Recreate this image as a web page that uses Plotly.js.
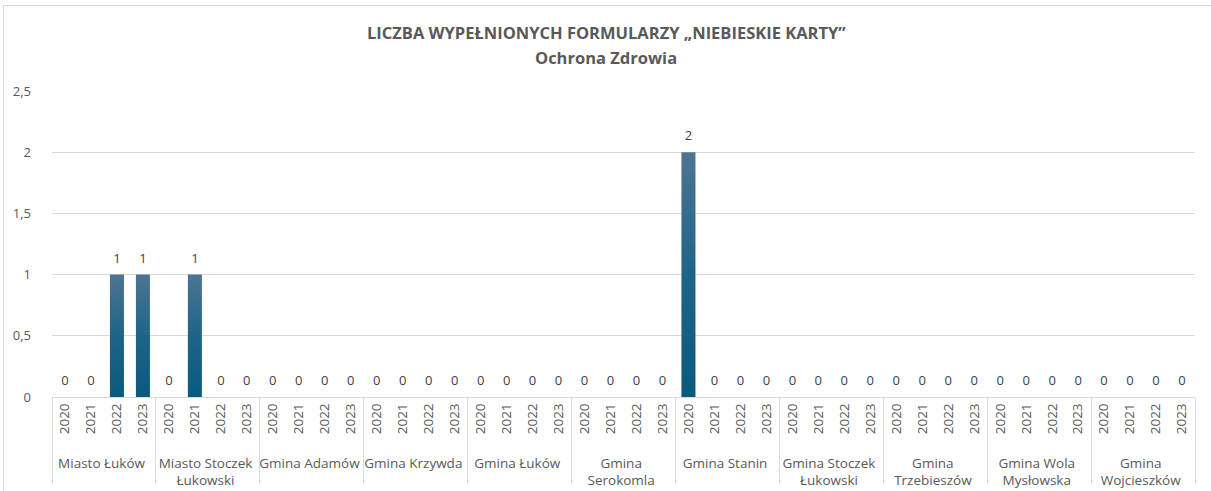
<!DOCTYPE html>
<html><head><meta charset="utf-8">
<script src="https://cdn.plot.ly/plotly-3.0.1.min.js"></script>
<style>
html,body{margin:0;padding:0;background:#fff;}
#frame{position:absolute;left:3px;top:5px;width:1215px;height:495px;border:1px solid #d9d9d9;box-sizing:border-box;}
#chart{position:absolute;left:0;top:0;width:1211px;height:491px;}
</style></head>
<body>
<div id="frame"></div>
<div id="chart"></div>
<script>
const groups = ["Miasto Łuków","Miasto Stoczek<br>Łukowski","Gmina Adamów","Gmina Krzywda","Gmina Łuków","Gmina<br>Serokomla","Gmina Stanin","Gmina Stoczek<br>Łukowski","Gmina<br>Trzebieszów","Gmina Wola<br>Mysłowska","Gmina<br>Wojcieszków"];
const years = ["2020","2021","2022","2023"];
const values = [
  [0,0,1,1],
  [0,1,0,0],
  [0,0,0,0],
  [0,0,0,0],
  [0,0,0,0],
  [0,0,0,0],
  [2,0,0,0],
  [0,0,0,0],
  [0,0,0,0],
  [0,0,0,0],
  [0,0,0,0]
];
const yTicks = [0,0.5,1,1.5,2,2.5];
const titleLines = ['LICZBA WYPEŁNIONYCH FORMULARZY „NIEBIESKIE KARTY”','Ochrona Zdrowia'];

const xg=[], xy=[], yv=[];
groups.forEach((g,i)=>years.forEach((yr,j)=>{xg.push(g);xy.push(yr);yv.push(values[i][j]);}));

const font = "'Open Sans', 'Liberation Sans', sans-serif";
const trace = {
  type:'bar', x:[xg,xy], y:yv,
  marker:{color:'#1c6386'},
  text:yv.map(String), textposition:'outside', cliponaxis:false,
  textfont:{family:font,size:13,color:'#404040'},
  hoverinfo:'none'
};
const layout = {
  width:1211, height:491,
  margin:{l:52,r:16,t:91,b:94},
  paper_bgcolor:'rgba(0,0,0,0)', plot_bgcolor:'rgba(0,0,0,0)',
  separators:', ',
  bargap:0.46,
  showlegend:false,
  annotations:[
    {text:'<b>'+titleLines[0]+'</b>', xref:'paper', yref:'paper', x:0.485, y:(491-32-94)/306, xanchor:'center', yanchor:'middle', showarrow:false, font:{family:font,size:16.5,color:'#595959'}},
    {text:'<b>'+titleLines[1]+'</b>', xref:'paper', yref:'paper', x:0.485, y:(491-58-94)/306, xanchor:'center', yanchor:'middle', showarrow:false, font:{family:font,size:16.5,color:'#595959'}}
  ],
  xaxis:{type:'multicategory', tickangle:-90, showgrid:false,
    showline:true, linecolor:'#d9d9d9', linewidth:1,
    showdividers:true, dividercolor:'#d9d9d9', dividerwidth:1,
    tickfont:{family:font,size:13.5,color:'#595959'}, ticks:''},
  yaxis:{range:[0,2.5], tickvals:yTicks, showgrid:true, gridcolor:'#d9d9d9',
    zeroline:false, showline:false, ticks:'', ticklabelstandoff:20,
    tickfont:{family:font,size:13,color:'#595959'}}
};
Plotly.newPlot('chart',[trace],layout,{displayModeBar:false,staticPlot:true}).then(gd=>{
  const svg = gd.querySelector('svg.main-svg');
  const ns='http://www.w3.org/2000/svg';
  let defs = svg.querySelector('defs');
  const lg=document.createElementNS(ns,'linearGradient');
  lg.setAttribute('id','barGrad');lg.setAttribute('x1','0');lg.setAttribute('y1','0');lg.setAttribute('x2','0');lg.setAttribute('y2','1');
  [['0','#4e7492'],['0.5','#1e6488'],['1','#0a5a7e']].forEach(([o,c])=>{const s=document.createElementNS(ns,'stop');s.setAttribute('offset',o);s.setAttribute('stop-color',c);lg.appendChild(s);});
  defs.appendChild(lg);
  gd.querySelectorAll('.bars .point path').forEach(p=>{p.style.fill='url(#barGrad)';});
  gd.querySelectorAll('.bars .point text').forEach(t=>{
    const y=parseFloat(t.getAttribute('y')||'0'); t.setAttribute('y', y-5);
  });
  gd.querySelectorAll('g.xtick2').forEach(g=>{g.setAttribute('transform','translate(0,7)');});
});
</script>
</body></html>
